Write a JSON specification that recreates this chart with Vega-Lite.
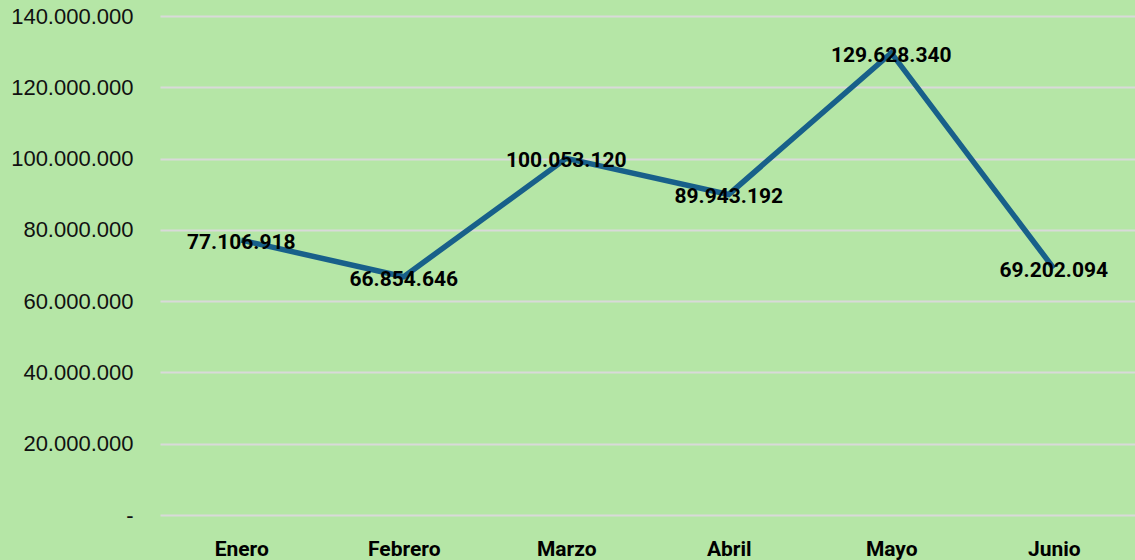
{
  "$schema": "https://vega.github.io/schema/vega-lite/v6.json",
  "width": 975,
  "height": 499,
  "autosize": {"type": "none"},
  "padding": {"left": 160, "top": 16, "right": 0, "bottom": 45},
  "background": "#b5e6a6",
  "config": {
    "view": {"stroke": null},
    "locale": {"number": {"decimal": ",", "thousands": ".", "grouping": [3], "currency": ["", ""]}}
  },
  "data": {
    "values": [
      {"mes": "Enero", "valor": 77106918},
      {"mes": "Febrero", "valor": 66854646},
      {"mes": "Marzo", "valor": 100053120},
      {"mes": "Abril", "valor": 89943192},
      {"mes": "Mayo", "valor": 129628340},
      {"mes": "Junio", "valor": 69202094}
    ]
  },
  "encoding": {
    "x": {
      "field": "mes", "type": "ordinal", "sort": null,
      "scale": {"type": "point", "padding": 0.5},
      "axis": {
        "title": null, "domain": false, "ticks": false, "labelAngle": 0,
        "labelFont": "Roboto", "labelFontWeight": "bold", "labelFontSize": 21,
        "labelColor": "#000000", "labelPadding": 23, "grid": false
      }
    },
    "y": {
      "field": "valor", "type": "quantitative",
      "scale": {"domain": [0, 140000000], "nice": false},
      "axis": {
        "title": null, "domain": false, "ticks": false,
        "values": [0, 20000000, 40000000, 60000000, 80000000, 100000000, 120000000, 140000000],
        "labelExpr": "datum.value == 0 ? '-\u00a0\u00a0' : format(datum.value, ',d')",
        "labelFont": "Liberation Sans", "labelFontSize": 22, "labelColor": "#111111",
        "labelPadding": 27, "grid": true, "gridColor": "#d9d9d9", "gridWidth": 2
      }
    }
  },
  "layer": [
    {"mark": {"type": "line", "color": "#18608a", "strokeWidth": 5.5}},
    {
      "mark": {"type": "text", "font": "Roboto", "fontWeight": "bold", "fontSize": 21, "color": "#000000", "align": "center", "baseline": "middle", "dy": 3},
      "encoding": {"text": {"field": "valor", "type": "quantitative", "format": ",d"}}
    }
  ]
}
